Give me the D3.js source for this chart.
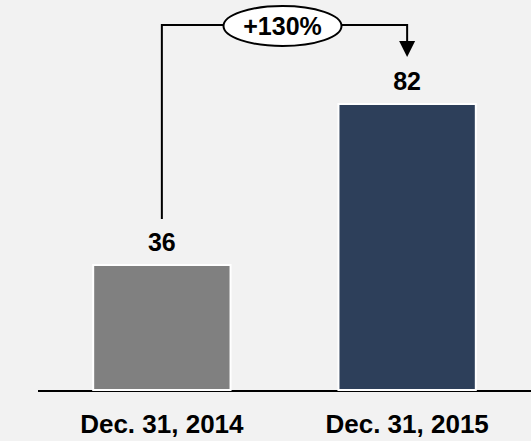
<!DOCTYPE html>
<html>
<head>
<meta charset="utf-8">
<script src="https://cdn.jsdelivr.net/npm/d3@7"></script>
<style>
  body { margin: 0; background: #f2f2f2; }
  text { font-family: "Liberation Sans", Arial, sans-serif; font-weight: bold; fill: #000; }
</style>
</head>
<body>
<div id="chart"></div>
<script>
// chart data
var categories = ["Dec. 31, 2014", "Dec. 31, 2015"];
var values = [36, 82];
var colors = ["#808080", "#2d3f5a"];
var changeLabel = "+130%";

var width = 531, height = 441;

var svg = d3.select("#chart").append("svg")
    .attr("width", width)
    .attr("height", height);

svg.append("rect").attr("width", width).attr("height", height).attr("fill", "#f2f2f2");

var x = d3.scaleBand()
    .domain(categories)
    .range([38, 531])
    .paddingInner(0.44)
    .paddingOuter(0.225);

var y = d3.scaleLinear()
    .domain([0, 100])
    .range([391, 41]);

// baseline
svg.append("line")
    .attr("x1", 38).attr("x2", width)
    .attr("y1", y(0)).attr("y2", y(0))
    .attr("stroke", "#000").attr("stroke-width", 2);

// bars
svg.selectAll("rect.bar")
    .data(values)
    .enter()
    .append("rect")
      .attr("class", "bar")
      .attr("x", function(d, i) { return x(categories[i]); })
      .attr("y", function(d) { return y(d); })
      .attr("width", x.bandwidth())
      .attr("height", function(d) { return y(0) - y(d) - 1; })
      .attr("fill", function(d, i) { return colors[i]; })
      .attr("stroke", "#fff")
      .attr("stroke-width", 2);

// value labels
svg.selectAll("text.val")
    .data(values)
    .enter()
    .append("text")
      .attr("class", "val")
      .attr("x", function(d, i) { return x(categories[i]) + x.bandwidth() / 2; })
      .attr("y", function(d) { return y(d) - 14; })
      .attr("text-anchor", "middle")
      .style("font-size", "25px")
      .text(function(d) { return d; });

// category labels
svg.selectAll("text.cat")
    .data(categories)
    .enter()
    .append("text")
      .attr("class", "cat")
      .attr("x", function(d) { return x(d) + x.bandwidth() / 2; })
      .attr("y", 433)
      .attr("text-anchor", "middle")
      .style("font-size", "26px")
      .text(function(d) { return d; });

// growth bracket
var x0 = x(categories[0]) + x.bandwidth() / 2,
    x1 = x(categories[1]) + x.bandwidth() / 2,
    bracketY = 25,
    tipY = 57;

svg.append("path")
    .attr("d", "M" + x0 + "," + (y(values[0]) - 46) + "V" + bracketY + "H" + x1 + "V" + (tipY - 14))
    .attr("fill", "none")
    .attr("stroke", "#000")
    .attr("stroke-width", 2);

svg.append("path")
    .attr("d", "M" + (x1 - 8) + "," + (tipY - 16) + "L" + (x1 + 8) + "," + (tipY - 16) + "L" + x1 + "," + tipY + "Z")
    .attr("fill", "#000");

var cx = (x0 + x1) / 2 - 2;
svg.append("ellipse")
    .attr("cx", cx).attr("cy", bracketY + 1)
    .attr("rx", 59).attr("ry", 20)
    .attr("fill", "#fff")
    .attr("stroke", "#000")
    .attr("stroke-width", 2);

svg.append("text")
    .attr("x", cx).attr("y", bracketY + 10)
    .attr("text-anchor", "middle")
    .style("font-size", "25px")
    .text(changeLabel);
</script>
</body>
</html>
